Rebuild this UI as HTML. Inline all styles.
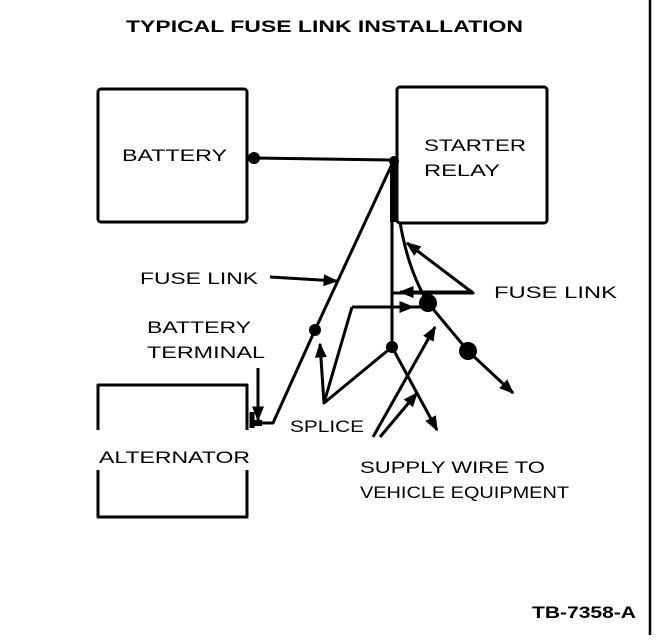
<!DOCTYPE html>
<html><head><style>html,body{margin:0;padding:0;background:#fff}svg{display:block}text{font-family:"Liberation Sans",sans-serif;font-size:17px;fill:#000}</style></head>
<body>
<svg width="672" height="640" viewBox="0 0 672 640" xmlns="http://www.w3.org/2000/svg">
<defs>
<marker id="a" viewBox="0 0 10 10" refX="9" refY="5" markerWidth="5" markerHeight="5" orient="auto"><path d="M0,1 L10,5 L0,9 Z" fill="#000"/></marker>
</defs>
<text x="126" y="32" font-weight="bold" textLength="397" lengthAdjust="spacingAndGlyphs">TYPICAL FUSE LINK INSTALLATION</text>
<g fill="none" stroke="#000" stroke-width="3" stroke-linejoin="round">
<rect x="98" y="89" width="149" height="133" rx="3"/>
<rect x="397" y="87" width="150" height="136" rx="3"/>
<path d="M98,430 V385 H247 V430 M98,470 V517 H247 V470"/>
<line x1="650" y1="0" x2="650" y2="635" stroke-width="2.5"/>
<line x1="254" y1="158" x2="393" y2="160"/>
<path d="M393,162 L315,330 L273,423 H255"/>
<path d="M393,160 V222" stroke-width="6"/>
<path d="M392,222 V347"/>
<path d="M392,293 H473 L407,243" marker-end="url(#a)"/>
<path d="M473,292 L400,292" marker-end="url(#a)"/>
<path d="M400,222 Q408,270 428,303"/>
<path d="M428,303 L468,351 L513,393" marker-end="url(#a)"/>
<path d="M352,307 H413" marker-end="url(#a)"/>
<path d="M352,307 H428"/>
<path d="M352,307 L324,403 L392,347"/>
<path d="M324,403 L320,344" marker-end="url(#a)"/>
<path d="M392,347 L437,430" marker-end="url(#a)"/>
<path d="M373,437 L435,327" marker-end="url(#a)"/>
<path d="M380,437 L417,393" marker-end="url(#a)"/>
<path d="M270,277 L337,281" marker-end="url(#a)"/>
<path d="M258,368 L258,420" marker-end="url(#a)"/>
<path d="M250,423 H262" stroke-width="6"/>
<path d="M252,412 V428" stroke-width="5"/>
</g>
<g fill="#000">
<circle cx="254" cy="158" r="6"/>
<circle cx="394" cy="161" r="5"/>
<circle cx="315" cy="330" r="6"/>
<circle cx="428" cy="303" r="9"/>
<circle cx="468" cy="351" r="9"/>
<circle cx="392" cy="347" r="6"/>
</g>
<text x="122" y="161" textLength="105" lengthAdjust="spacingAndGlyphs">BATTERY</text>
<text x="424" y="151" textLength="102" lengthAdjust="spacingAndGlyphs">STARTER</text>
<text x="424" y="176" textLength="76" lengthAdjust="spacingAndGlyphs">RELAY</text>
<text x="140" y="284" textLength="118" lengthAdjust="spacingAndGlyphs">FUSE LINK</text>
<text x="494" y="298" textLength="123" lengthAdjust="spacingAndGlyphs">FUSE LINK</text>
<text x="147" y="333" textLength="104" lengthAdjust="spacingAndGlyphs">BATTERY</text>
<text x="147" y="358" textLength="118" lengthAdjust="spacingAndGlyphs">TERMINAL</text>
<text x="290" y="432" textLength="74" lengthAdjust="spacingAndGlyphs">SPLICE</text>
<text x="99" y="463" textLength="151" lengthAdjust="spacingAndGlyphs">ALTERNATOR</text>
<text x="360" y="473" textLength="185" lengthAdjust="spacingAndGlyphs">SUPPLY WIRE TO</text>
<text x="360" y="498" textLength="209" lengthAdjust="spacingAndGlyphs">VEHICLE EQUIPMENT</text>
<text x="532" y="618" font-weight="bold" textLength="104" lengthAdjust="spacingAndGlyphs">TB-7358-A</text>
</svg>
</body></html>
